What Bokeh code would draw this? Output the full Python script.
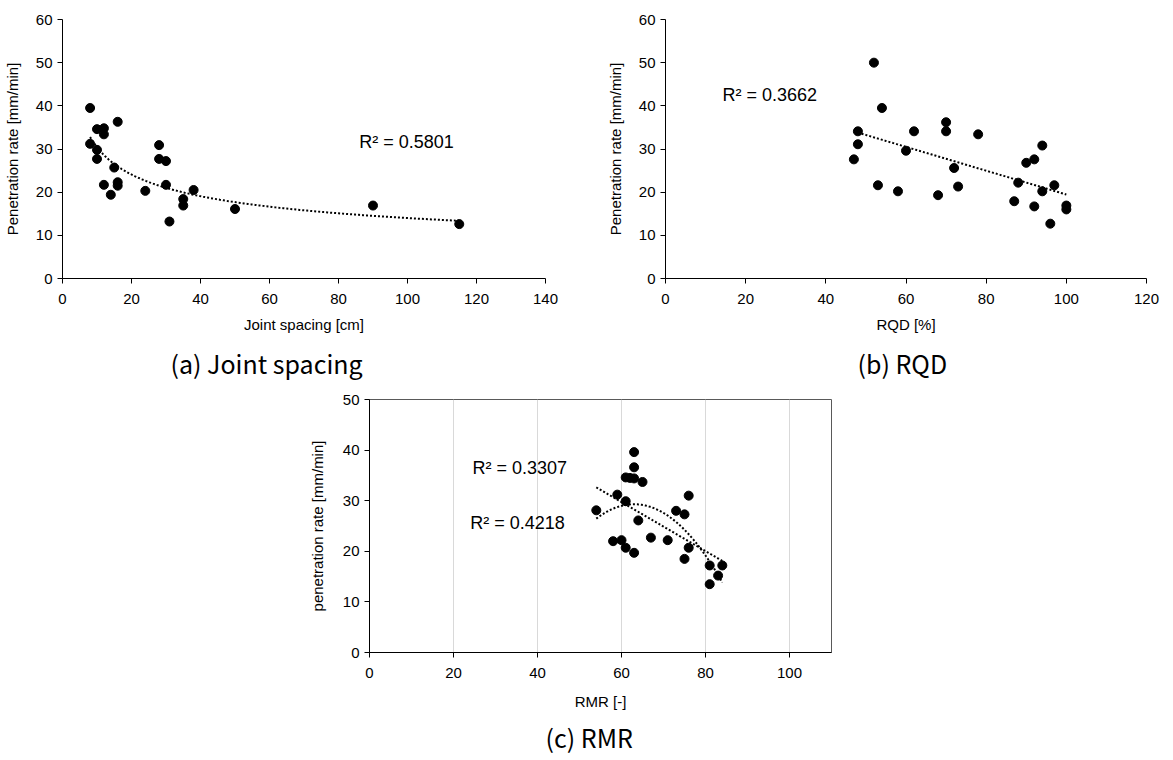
import numpy as np
from bokeh.plotting import figure
from bokeh.models import Range1d, Label, Title, Spacer, FixedTicker
from bokeh.layouts import column, row
from bokeh.embed import file_html
from bokeh.resources import INLINE

# ---------------- data ----------------
joint_spacing = [8, 10, 12, 12, 16, 8, 10, 10, 15, 12, 16, 16, 14, 24, 28, 28, 30, 30, 35, 35, 38, 50, 90, 31, 115]
pen_rate_a = [39.5, 34.6, 34.8, 33.4, 36.3, 31.2, 29.8, 27.7, 25.7, 21.7, 22.3, 21.5, 19.4, 20.3, 30.9, 27.7,
              27.2, 21.7, 18.4, 16.9, 20.5, 16.1, 16.9, 13.2, 12.6]

rqd = [52, 54, 48, 48, 47, 53, 58, 62, 70, 70, 78, 60, 72, 68, 73, 94, 90, 92, 88, 94, 97, 87, 92, 96, 100, 100]
pen_rate_b = [50.0, 39.5, 34.1, 31.1, 27.6, 21.6, 20.2, 34.1, 36.2, 34.1, 33.4, 29.6, 25.6, 19.3, 21.3, 30.8,
              26.8, 27.6, 22.2, 20.2, 21.6, 17.9, 16.7, 12.7, 16.9, 16.0]

rmr = [63, 63, 61, 62, 63, 65, 59, 61, 54, 64, 76, 73, 75, 58, 60, 61, 63, 67, 71, 76, 75, 81, 84, 83, 81]
pen_rate_c = [39.6, 36.6, 34.6, 34.5, 34.4, 33.7, 31.2, 29.9, 28.1, 26.1, 31.0, 28.0, 27.3, 22.0, 22.2, 20.7,
              19.7, 22.7, 22.2, 20.7, 18.5, 17.2, 17.2, 15.2, 13.5]

r2_a = "R² = 0.5801"
r2_b = "R² = 0.3662"
r2_c_lin = "R² = 0.3307"
r2_c_poly = "R² = 0.4218"

sub_a = "(a) Joint spacing"
sub_b = "(b) RQD"
sub_c = "(c) RMR"

xticks_a = [0, 20, 40, 60, 80, 100, 120, 140]
xticks_b = [0, 20, 40, 60, 80, 100, 120]
xticks_c = [0, 20, 40, 60, 80, 100]
yticks_ab = [0, 10, 20, 30, 40, 50, 60]
yticks_c = [0, 10, 20, 30, 40, 50]

FONT = "Liberation Sans"
SUBFONT = "Noto Sans CJK KR"


def style(p, xticks, yticks, x_standoff, y_standoff):
    p.xaxis.ticker = FixedTicker(ticks=xticks)
    p.yaxis.ticker = FixedTicker(ticks=yticks)
    for ax in (p.xaxis, p.yaxis):
        ax.axis_line_color = "black"
        ax.axis_line_width = 1
        ax.major_tick_line_color = "black"
        ax.major_tick_out = 5
        ax.major_tick_in = 0
        ax.minor_tick_line_color = None
        ax.major_label_text_font = FONT
        ax.major_label_text_font_size = "15px"
        ax.major_label_text_color = "black"
        ax.axis_label_text_font = FONT
        ax.axis_label_text_font_size = "15px"
        ax.axis_label_text_font_style = "normal"
        ax.axis_label_text_color = "black"
    p.xaxis.major_label_standoff = 10
    p.yaxis.major_label_standoff = 5
    p.xaxis.axis_label_standoff = x_standoff
    p.yaxis.axis_label_standoff = y_standoff
    p.ygrid.grid_line_color = None
    p.background_fill_color = "white"
    p.border_fill_color = "white"


def r2_label(p, x, y, text):
    p.add_layout(Label(x=x, y=y, text=text, text_font=FONT, text_font_size="18px",
                       text_baseline="middle", text_align="left", text_color="black"))


def add_sub(p, text, offset, standoff):
    p.add_layout(Title(text=text, align="left", offset=offset, standoff=standoff,
                       text_font=SUBFONT, text_font_size="25px", text_font_style="normal",
                       text_color="black"), "below")


def trend(xs, ys, kind):
    x = np.asarray(xs, float)
    y = np.asarray(ys, float)
    xx = np.linspace(x.min(), x.max(), 200)
    if kind == "power":
        b, lna = np.polyfit(np.log(x), np.log(y), 1)
        return xx, np.exp(lna) * xx ** b
    deg = 1 if kind == "linear" else 2
    c = np.polyfit(x, y, deg)
    return xx, np.polyval(c, xx)


# ---------------- (a) ----------------
pa = figure(width=603, height=387, x_range=Range1d(0, 140), y_range=Range1d(0, 60),
            output_backend="svg", toolbar_location=None,
            min_border_left=60, min_border_right=58, min_border_top=19, min_border_bottom=109)
style(pa, xticks_a, yticks_ab, 9, 12)
pa.xgrid.grid_line_color = None
pa.outline_line_color = None
pa.xaxis.axis_label = "Joint spacing [cm]"
pa.yaxis.axis_label = "Penetration rate [mm/min]"
tx, ty = trend(joint_spacing, pen_rate_a, "power")
pa.line(tx, ty, line_color="black", line_width=2, line_dash="2 2")
pa.scatter(joint_spacing, pen_rate_a, size=9, fill_color="black", line_color="black")
r2_label(pa, 86, 31.7, r2_a)
add_sub(pa, sub_a, 108, 14)

# ---------------- (b) ----------------
pb = figure(width=557, height=387, x_range=Range1d(0, 120), y_range=Range1d(0, 60),
            output_backend="svg", toolbar_location=None,
            min_border_left=61, min_border_right=14, min_border_top=19, min_border_bottom=109)
style(pb, xticks_b, yticks_ab, 9, 12)
pb.xgrid.grid_line_color = None
pb.outline_line_color = None
pb.xaxis.axis_label = "RQD [%]"
pb.yaxis.axis_label = "Penetration rate [mm/min]"
tx, ty = trend(rqd, pen_rate_b, "linear")
pb.line(tx, ty, line_color="black", line_width=2, line_dash="2 2")
pb.scatter(rqd, pen_rate_b, size=9, fill_color="black", line_color="black")
r2_label(pb, 14.2, 42.6, r2_b)
add_sub(pb, sub_b, 192, 14)

# ---------------- (c) ----------------
pc = figure(width=561, height=371, x_range=Range1d(0, 110), y_range=Range1d(0, 50),
            output_backend="svg", toolbar_location=None,
            min_border_left=79, min_border_right=20, min_border_top=12, min_border_bottom=106)
style(pc, xticks_c, yticks_c, 12, 14)
pc.xgrid.grid_line_color = "#d9d9d9"
pc.xgrid.grid_line_width = 1
pc.outline_line_color = "#595959"
pc.outline_line_width = 1
pc.xaxis.axis_label = "RMR [-]"
pc.yaxis.axis_label = "penetration rate [mm/min]"
tx, ty = trend(rmr, pen_rate_c, "linear")
pc.line(tx, ty, line_color="black", line_width=2, line_dash="2 2")
tx, ty = trend(rmr, pen_rate_c, "poly")
pc.line(tx, ty, line_color="black", line_width=2, line_dash="2 2")
pc.scatter(rmr, pen_rate_c, size=9, fill_color="black", line_color="black")
r2_label(pc, 24.5, 36.4, r2_c_lin)
r2_label(pc, 24.0, 25.5, r2_c_poly)
add_sub(pc, sub_c, 176, 8)

layout = column(row(pa, pb), row(Spacer(width=290, height=371), pc))
open("out.html", "w").write(file_html(layout, INLINE))
